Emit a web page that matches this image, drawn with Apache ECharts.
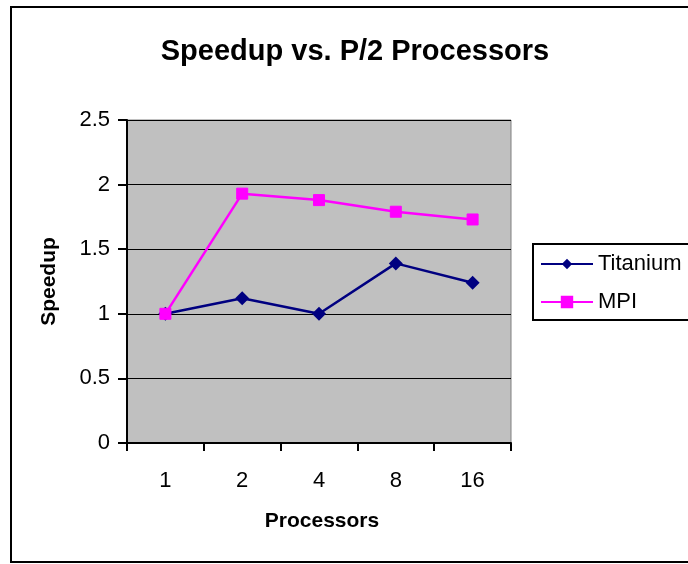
<!DOCTYPE html>
<html><head><meta charset="utf-8">
<script src="https://cdn.jsdelivr.net/npm/echarts@6/dist/echarts.min.js"></script>
<style>html,body{margin:0;padding:0;background:#fff}#c{width:688px;height:564px}</style>
</head><body><div id="c"></div>
<script>
var categories = ['1', '2', '4', '8', '16'];
var titanium = [1.0, 1.12, 1.0, 1.39, 1.24];
var mpi = [1.0, 1.93, 1.88, 1.79, 1.73];
var yTicks = [0, 0.5, 1, 1.5, 2, 2.5];

var FONT = '"Liberation Sans", Arial, sans-serif';
var chart = echarts.init(document.getElementById('c'), null, {renderer: 'canvas'});
chart.setOption({
  animation: false,
  backgroundColor: '#ffffff',
  title: {
    text: 'Speedup vs. P/2 Processors',
    left: 350, top: 47, textAlign: 'center', textVerticalAlign: 'middle',
    textStyle: {fontFamily: FONT, fontWeight: 'bold', fontSize: 29, color: '#000'}
  },
  grid: {
    left: 127, top: 120, right: 177, bottom: 121,
    show: true, backgroundColor: '#C0C0C0', borderColor: '#808080', borderWidth: 1
  },
  xAxis: {
    type: 'category', data: categories, boundaryGap: true,
    name: 'Processors', nameLocation: 'middle', nameGap: 68,
    nameTextStyle: {fontFamily: FONT, fontWeight: 'bold', fontSize: 21, color: '#000', padding: [0, 0, 0, 6]},
    axisLine: {lineStyle: {color: '#000', width: 2}},
    axisTick: {show: true, length: 8, lineStyle: {color: '#000', width: 2}},
    axisLabel: {fontFamily: FONT, fontSize: 22, color: '#000', margin: 27},
    splitLine: {show: false}
  },
  yAxis: {
    type: 'value', min: yTicks[0], max: yTicks[yTicks.length - 1], interval: 0.5,
    name: 'Speedup', nameLocation: 'middle', nameGap: 67, nameRotate: 90,
    nameTextStyle: {fontFamily: FONT, fontWeight: 'bold', fontSize: 21, color: '#000'},
    axisLine: {show: true, lineStyle: {color: '#000', width: 2}},
    axisTick: {show: true, length: 9, lineStyle: {color: '#000', width: 2}},
    axisLabel: {fontFamily: FONT, fontSize: 22, color: '#000', margin: 17},
    splitLine: {show: true, lineStyle: {color: '#000', width: 1}}
  },
  legend: {
    orient: 'vertical', left: 540, top: 253, itemGap: 16, padding: 0,
    itemWidth: 52, itemHeight: 13,
    textStyle: {fontFamily: FONT, fontSize: 22, color: '#000'},
    data: [
      {name: 'Titanium'},
      {name: 'MPI'}
    ]
  },
  graphic: [
    {type: 'rect', shape: {x: 11, y: 7, width: 700, height: 555}, style: {fill: 'none', stroke: '#000', lineWidth: 2}, silent: true, z: -10},
    {type: 'rect', shape: {x: 533, y: 244, width: 200, height: 76}, style: {fill: 'none', stroke: '#000', lineWidth: 2}, silent: true, z: 10}
  ],
  series: [
    {
      name: 'Titanium', type: 'line', data: titanium,
      symbol: 'diamond', symbolSize: 14,
      lineStyle: {color: '#000080', width: 2.5},
      itemStyle: {color: '#000080'}
    },
    {
      name: 'MPI', type: 'line', data: mpi,
      symbol: 'rect', symbolSize: 11,
      lineStyle: {color: '#FF00FF', width: 2.5},
      itemStyle: {color: '#FF00FF', borderColor: '#FF00FF', borderWidth: 1}
    }
  ]
});
</script></body></html>
